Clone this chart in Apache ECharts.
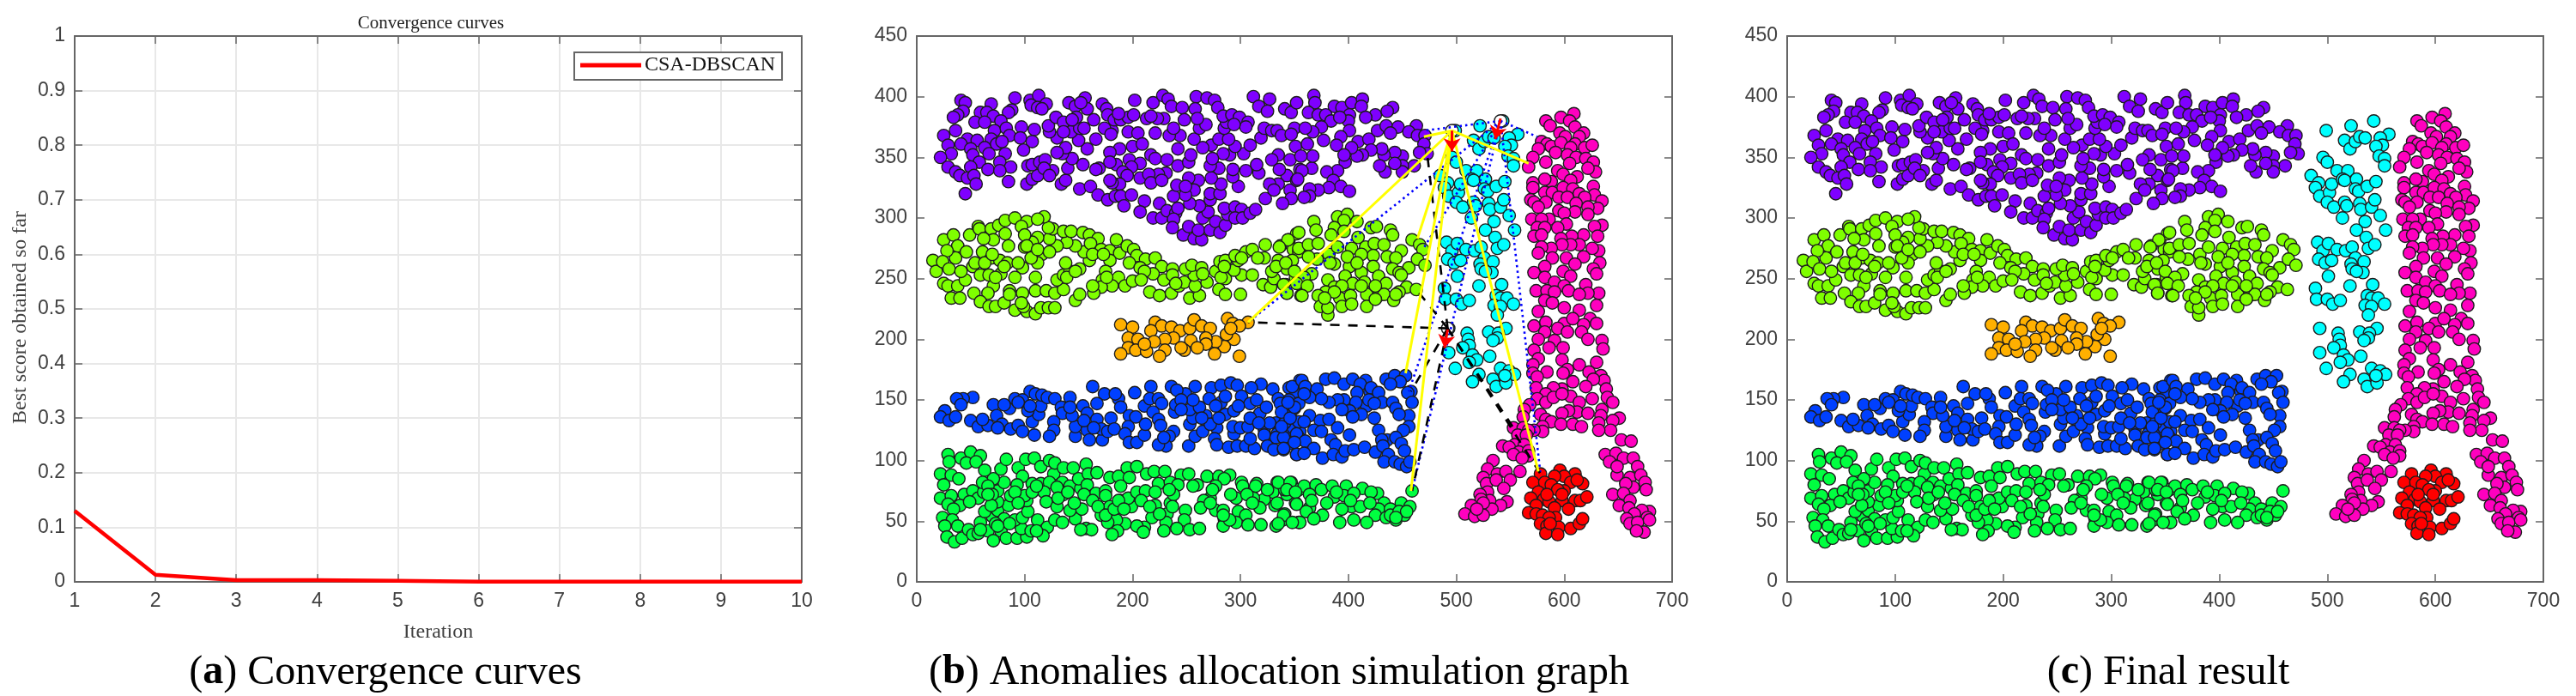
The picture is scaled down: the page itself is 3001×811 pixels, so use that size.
<!DOCTYPE html>
<html><head><meta charset="utf-8">
<style>html,body{margin:0;padding:0;background:#fff}#c{width:3001px;height:811px}</style>
<script src="https://cdn.jsdelivr.net/npm/echarts@6/dist/echarts.min.js"></script>
</head><body><div id="c"></div>
<script>
const iterations=[1,2,3,4,5,6,7,8,9,10];
const bestScore=[0.13,0.013,0.003,0.003,0.002,0.0005,0.0005,0.0004,0.0003,0.0003];
const scoreTicks=[0,0.1,0.2,0.3,0.4,0.5,0.6,0.7,0.8,0.9,1];
const captions=[['a',') Convergence curves'],['b',') Anomalies allocation simulation graph'],['c',') Final result']];

const purplePts=[[41,397],[45,395],[43,388],[38,385],[34,383],[69,394],[91,399],[88,389],[85,387],[105,397],[113,401],[120,394],[106,393],[112,391],[116,390],[141,395],[156,399],[147,392],[158,390],[152,395],[172,394],[176,390],[202,397],[219,395],[228,401],[233,398],[236,392],[246,391],[259,400],[269,399],[276,397],[279,391],[258,390],[312,400],[327,398],[317,392],[325,388],
[59,387],[65,387],[71,384],[54,379],[63,379],[78,380],[72,372],[83,374],[97,375],[109,373],[36,372],[25,368],[47,365],[56,364],[41,361],[29,360],[69,365],[86,368],[96,366],[107,363],[74,361],[79,363],[63,358],[50,357],[99,356],[32,353],[22,350],[52,352],[67,353],[82,353],[58,346],[77,346],[29,342],[87,342],[66,340],[77,339],[50,342],[36,338],[40,335],[47,333],[53,335],[55,328],[45,320],[85,330],[102,328],[107,332],[112,335],[103,343],[107,344],[114,346],[119,348],[126,339],[118,341],[123,335],[134,328],[138,331],[140,341],[154,344],[144,349],[135,353],[138,358],[130,354],[158,357],[150,364],[166,365],[130,366],[123,371],[122,376],[129,383],[136,379],[143,371],[151,374],[148,383],[155,374],[164,381],[144,381],[136,371],
[181,372],[174,374],[180,369],[177,385],[183,381],[189,381],[196,383],[201,385],[187,386],[196,371],[205,370],[200,359],[209,361],[188,357],[179,354],[217,352],[221,349],[232,348],[185,344],[179,346],[197,348],[207,345],[169,341],[166,340],[199,342],[191,338],[195,335],[231,337],[224,336],[207,333],[215,336],[217,329],[227,331],[188,328],[181,329],[179,331],[151,324],[161,326],[168,319],[177,315],[184,318],[189,318],[199,319],[192,310],[211,314],[207,305],[225,312],[219,300],[227,300],[232,306],[240,304],[242,308],[238,299],[237,292],[247,286],[252,293],[257,283],[264,282],[261,290],[272,290],[277,297],[281,288],[286,294],[288,303],[285,308],[295,309],[301,307],[295,300],[302,300],[309,304],[314,307],[265,300],[270,305],[262,310],[253,312],[272,315],[272,320],[281,320],[282,328],[298,326],[273,333],[261,331],[257,323],[249,319],[238,318],[241,327],[252,333],[249,326],[242,343],[252,346],[254,352],[242,357],[293,334],[293,340],[280,341],[272,343],[305,339],[317,337],[315,344],[290,352],[284,353],[274,349],[303,353],[295,359],[309,360],[273,360],[280,365],[289,365],[265,358],[257,365],[244,368],[234,368],[221,370],[238,374],[262,374],[268,377],[260,382],[248,381],[229,382],[223,382],[213,382],[217,384],[285,374],[287,379],[284,384],[292,385],[299,383],[307,379],[305,375],[294,377],[319,366],[322,374],[329,372],[334,372],[338,368],[350,374],[347,369],[341,390],[347,387],[352,395],[335,352],[329,348],[346,348],[351,359],[343,335],[335,328],[327,328],[323,316],[346,323],[347,316],[339,312],[331,323],[352,331],[355,340],[336,340],
[368,401],[369,395],[363,387],[387,392],[394,391],[403,395],[413,398],[412,392],[401,385],[425,385],[441,391],[436,388],[416,383],[372,385],[379,385],[384,380],[400,380],[392,383],[375,375],[367,371],[401,372],[360,374],[377,364],[393,367],[389,360],[409,363],[419,365],[427,372],[435,376],[446,375],[439,370],[463,376],[456,371],[464,368],[471,368],[470,361],[473,353],[466,354],[461,343],[450,351],[443,354],[433,352],[450,343],[450,338],[443,345],[434,338],[429,343],[431,357],[421,356],[413,352],[408,351],[403,358],[397,346],[396,352],[390,339],[380,338],[386,331],[393,326],[401,322],[382,325],[372,323],[364,324],[364,318],[359,317],[366,341],[357,339],[353,332],[367,351],[356,351],[362,361]];

const limePts=[[15,265],[18,256],[25,282],[34,286],[38,277],[36,267],[28,273],[24,264],[30,258],[25,246],[29,244],[38,244],[32,234],[40,234],[45,249],[41,256],[52,260],[46,272],[49,286],[57,293],[58,291],[69,291],[76,294],[82,298],[91,300],[102,297],[97,293],[82,287],[71,282],[62,283],[85,277],[61,272],[69,267],[54,263],[63,263],[77,265],[84,263],[98,259],[78,254],[59,253],[67,253],[91,251],[110,251],[71,244],[66,238],[53,238],[59,231],[67,227],[73,227],[81,230],[86,240],[98,238],[91,224],[102,223],[110,221],[99,227],[115,226],[122,226],[128,226],[110,240],[120,240],[128,238],[136,241],[147,232],[151,237],[130,249],[136,253],[142,256],[138,263],[151,258],[160,265],[155,272],[147,277],[139,280],[130,277],[123,283],[112,284],[116,270],[112,263],[106,267],[100,276],[107,280],[100,286],[126,291],[122,292],[118,301],[112,299],[136,289],[143,289],[154,288],[160,286],[168,283],[161,279],[171,274],[179,273],[185,282],[188,271],[179,265],[195,277],[201,274],[204,269],[212,266],[221,267],[197,263],[207,259],[227,260],[219,254],[211,256],[229,249],[187,251],[175,256],[172,249],[181,244],[171,243],[164,238],[163,244],[193,244],[200,248],[208,249],[216,239],[225,236],[236,238],[243,244],[248,247],[253,234],[262,236],[258,244],[257,253],[249,258],[255,261],[237,258],[264,259],[269,247],[265,254],[277,256],[281,264],[286,265],[286,250],[280,241],[286,237],[300,237],[301,253],[294,257],[298,265],[295,269],[305,272],[311,274],[323,278],[322,267],[316,267],[311,253],[321,245],[328,243],[331,250],[329,256],[335,265],[337,277],[345,282],[352,287],[349,274],[354,272],[343,258],[342,245],[343,238],[354,246],[356,236],
[163,270],[173,270],[176,251],[102,277],[112,274],[123,272],[139,251],[147,256],[73,251],[81,260],[94,263],[70,270],[86,237],[97,230],[237,253],[240,246],[282,251],[285,260],[301,267],[333,260],[348,265],[351,251],
[368,297],[370,290],[390,301],[399,303],[396,298],[408,297],[387,292],[396,289],[384,286],[409,284],[421,292],[426,293],[439,290],[441,286],[354,288],[344,282],[336,276],[354,275],[363,278],[372,279],[382,270],[390,276],[403,275],[416,276],[424,279],[433,278],[449,273],[459,282],[466,278],[469,274],[436,268],[444,267],[423,269],[412,270],[371,266],[363,268],[342,263],[387,262],[401,260],[423,260],[456,259],[464,266],[471,261],[441,258],[447,255],[428,252],[412,255],[397,252],[366,254],[350,256],[359,251],[352,246],[340,245],[362,244],[343,238],[357,236],[381,249],[415,247],[404,246],[435,246],[454,243],[463,241],[447,239],[387,243],[394,244],[379,239],[372,236],[392,234],[402,236],[417,237],[428,236],[433,237],[442,232],[374,227],[381,220],[381,226],[394,227],[403,229],[417,227],[425,233],
[387,239],[444,237],[449,253],[412,244],[378,234],[425,244],[399,268],[408,263],[383,263]];

const orangePts=[[189,212],[200,210],[221,214],[227,211],[217,207],[236,210],[244,207],[253,209],[257,216],[264,211],[272,209],[288,217],[293,213],[307,214],[299,211],[294,200],[287,204],[285,194],[277,198],[268,201],[268,196],[254,199],[276,188],[299,186],[260,193],[248,191],[238,201],[230,200],[196,201],[205,200],[196,193],[203,191],[213,190],[220,198],[230,191],[225,186],[189,188],[245,193],[211,196],[291,209]];

const bluePts=[[163,161],[174,155],[202,156],[217,161],[236,161],[258,161],[273,160],[282,162],[291,164],[297,162],[319,163],[310,160],[330,159],[52,152],[43,151],[37,151],[41,146],[26,141],[22,136],[30,133],[36,136],[50,133],[57,128],[66,129],[61,134],[71,146],[74,137],[79,130],[75,127],[86,143],[91,151],[87,126],[94,129],[98,124],[109,121],[107,132],[113,138],[103,141],[105,157],[110,155],[98,150],[115,145],[116,154],[121,152],[128,151],[142,152],[134,144],[135,139],[127,132],[127,125],[123,120],[147,120],[147,128],[144,137],[142,144],[154,145],[167,147],[158,139],[167,134],[180,135],[158,125],[160,117],[172,117],[171,126],[177,124],[183,126],[187,151],[184,155],[189,144],[197,137],[203,136],[196,128],[193,122],[197,115],[204,115],[211,121],[212,130],[211,145],[216,151],[224,151],[227,147],[219,140],[224,134],[226,129],[238,124],[234,120],[231,112],[224,113],[252,112],[258,120],[265,124],[253,130],[256,135],[268,137],[278,127],[272,130],[276,118],[278,113],[289,111],[297,112],[305,112],[313,110],[309,118],[294,122],[293,128],[300,127],[307,128],[286,138],[280,135],[239,140],[240,146],[253,142],[262,144],[249,155],[241,158],[256,150],[271,151],[282,148],[286,153],[294,141],[301,153],[309,147],[315,150],[318,139],[324,144],[335,151],[345,160],[355,166],[351,157],[345,150],[350,143],[337,147],[346,137],[333,131],[322,126],[322,121],[334,122],[341,122],[349,127],[325,112],[331,109],[340,109],[352,105],[355,124],[354,132],
[327,131],[333,119],[341,131],[309,135],[317,131],[298,145],[277,145],[264,135],[245,150],[245,142],[354,147],[346,114],[105,145],[94,148],[81,146],[155,133],[164,127],[229,119],[338,140],[340,119],[346,135],[338,128],[354,119],[420,157],[396,150],[417,145],
[348,161],[357,166],[360,161],[379,167],[387,168],[371,159],[396,163],[404,167],[416,166],[411,163],[421,160],[435,167],[443,170],[453,170],[448,165],[439,163],[428,156],[458,157],[455,156],[459,148],[431,148],[441,148],[444,143],[408,156],[407,148],[419,150],[424,147],[390,150],[382,148],[375,151],[364,152],[359,155],[350,144],[344,148],[401,141],[394,142],[412,138],[404,136],[424,135],[456,137],[447,138],[456,128],[451,125],[428,125],[364,137],[374,133],[382,134],[359,132],[390,127],[368,125],[375,124],[352,122],[401,121],[384,117],[436,117],[444,119],[431,117],[449,114],[452,108],[388,113],[360,116],[368,110],[350,115],[340,110],[352,105],[359,106],[376,102],[386,105],[394,103],[397,108],[405,109],[415,111],[425,107],[432,112],[437,105],[433,99],[443,99],[448,97],[454,95],[457,99]];

const greenPts=[[29,105],[30,99],[41,102],[50,107],[59,104],[46,98],[55,99],[22,89],[32,88],[39,85],[25,80],[22,69],[32,71],[44,72],[52,75],[57,69],[62,74],[29,64],[40,63],[49,66],[34,60],[24,53],[33,51],[26,46],[38,46],[28,37],[35,33],[42,36],[48,43],[52,39],[57,40],[59,49],[66,42],[71,34],[70,54],[63,58],[75,59],[81,52],[78,42],[83,36],[93,36],[102,37],[97,44],[91,51],[98,53],[103,58],[102,67],[100,71],[85,63],[87,71],[75,66],[75,75],[81,82],[71,85],[63,92],[78,93],[83,101],[94,94],[98,87],[93,80],[107,81],[101,101],[109,102],[115,95],[123,100],[127,89],[128,98],[136,94],[145,94],[115,81],[123,82],[135,82],[142,79],[118,74],[120,66],[130,62],[136,72],[112,51],[121,45],[117,38],[106,42],[128,51],[135,49],[147,52],[142,59],[153,60],[146,65],[152,77],[157,97],[150,85],[159,89],[167,90],[158,80],[166,73],[175,75],[179,86],[187,87],[195,94],[204,95],[197,86],[189,79],[213,89],[220,91],[230,91],[224,81],[245,88],[252,89],[235,82],[242,80],[260,80],[256,79],[269,87],[280,87],[290,88],[285,85],[277,79],[301,82],[302,79],[315,81],[314,79],[334,82],[330,74],[347,82],[322,68],[312,69],[296,69],[272,69],[266,67],[263,61],[277,59],[284,59],[298,58],[305,55],[318,61],[332,63],[351,65],[341,56],[285,52],[296,49],[284,46],[307,47],[319,47],[333,46],[339,51],[354,49],[175,71],[179,62],[171,55],[189,67],[199,62],[196,69],[204,74],[212,75],[221,63],[221,74],[235,65],[238,72],[249,59],[248,51],[232,56],[218,53],[231,49],[193,48],[185,51],[177,49],[211,45],[204,46],[186,42],[181,39],[210,41],[229,42],[241,44],[253,43],[262,44],[157,44],[162,43],[152,43],
[61,82],[66,79],[70,72],[69,63],[91,74],[94,65],[107,74],[111,79],[130,78],[131,69],[140,74],[155,72],[163,67],[168,62],[175,55],[183,60],[187,67],[192,60],[208,67],[216,62],[225,56],[237,62],[234,76],[272,65],[274,76],[291,72],[306,72],[311,65],[325,76],[343,72],[341,76],[354,76],[290,51],[284,55],[86,48],[73,48],[59,43],[75,46],[111,42],[66,72],
[335,82],[346,82],[343,76],[359,79],[351,74],[370,80],[375,76],[385,79],[387,70],[398,79],[396,71],[413,77],[405,73],[427,73],[421,74],[459,75],[433,65],[428,60],[403,62],[411,62],[394,60],[380,65],[364,61],[352,64],[361,58],[449,65],[457,62],[439,60],[425,55],[435,53],[444,51],[452,55],[376,55],[368,52],[392,49],[405,51],[417,49],[355,49],[340,55],[348,49],[334,65],[335,48],
[364,72],[389,74],[402,67],[420,65],[439,55],[447,58],[454,58],[444,53],[366,67]];

const cyanPts=[[499,372],[522,376],[543,380],[557,369],[516,364],[521,357],[526,363],[530,367],[535,366],[549,366],[551,360],[545,359],[548,351],[553,349],[553,343],[496,350],[500,346],[485,335],[492,329],[489,325],[493,318],[502,321],[504,328],[509,339],[519,339],[514,332],[516,331],[527,332],[526,324],[529,322],[537,326],[545,330],[500,313],[506,309],[516,313],[518,310],[514,300],[530,312],[531,307],[541,309],[544,315],[549,302],[554,290],[535,297],[527,290],[536,284],[538,275],[544,278],[491,280],[496,273],[501,279],[509,274],[517,273],[523,276],[526,267],[534,264],[492,266],[498,263],[504,265],[522,262],[523,258],[533,255],[527,256],[501,252],[521,244],[542,245],[489,242],[490,233],[500,233],[505,229],[512,232],[537,236],[541,234],[547,234],[535,228],[541,227],[553,229],[538,220],
[493,209],[510,205],[530,206],[546,209],[539,205],[538,201],[534,199],[511,200],[512,195],[506,193],[493,189],[515,187],[531,186],[519,183],[512,181],[499,176],[541,176],[549,174],[554,171],[521,171],[515,165],[534,167],[537,161],[546,164],[545,170]];

const magentaPts=[[583,380],[587,376],[597,383],[609,386],[605,380],[610,375],[596,370],[601,367],[618,370],[614,367],[579,363],[584,361],[588,359],[597,362],[610,361],[619,358],[626,360],[606,358],[576,357],[592,354],[571,350],[567,342],[583,346],[603,352],[611,350],[620,349],[627,346],[629,338],[622,341],[605,345],[594,339],[599,336],[612,334],[606,331],[588,330],[582,332],[571,329],[571,325],[627,326],[628,319],[582,321],[589,321],[599,325],[608,324],[614,320],[619,317],[595,317],[603,317],[569,315],[572,313],[635,314],[631,308],[611,312],[583,313],[576,309],[622,309],[610,305],[595,306],[600,304],[570,299],[586,299],[579,299],[622,303],[602,295],[594,292],[635,294],[628,293],[575,292],[582,292],[572,285],[579,286],[631,285],[618,286],[607,285],[597,283],[614,278],[606,278],[598,278],[588,275],[579,276],[576,271],[589,267],[632,273],[626,275],[618,268],[602,267],[610,262],[633,263],[627,258],[630,254],[582,260],[572,255],[582,251],[599,256],[606,252],[591,247],[600,244],[574,240],[584,240],[620,245],[632,238],[622,238],[604,240],[614,237],[630,228],[614,224],[600,226],[591,239],[582,232],[589,230],[576,223],[572,211],[583,214],[600,213],[608,217],[624,217],[630,213],[618,212],[594,209],[603,206],[582,206],
[616,206],[635,199],[636,192],[576,200],[591,199],[599,193],[622,200],[586,193],[572,191],[576,184],[630,181],[571,179],[598,183],[614,179],[603,175],[584,173],[599,172],[571,172],[575,169],[623,173],[634,170],[637,166],[627,167],[608,165],[574,160],[598,159],[590,160],[620,161],[639,159],[606,153],[583,155],[575,151],[626,151],[640,152],[645,148],[583,148],[590,152],[598,155],[614,148],[568,146],[563,142],[612,140],[604,141],[598,139],[622,139],[635,142],[651,135],[645,133],[634,137],[562,136],[578,138],[583,134],[588,132],[597,130],[608,130],[616,128],[632,131],[643,125],[632,125],[553,127],[562,127],[580,128],[580,124],[572,125],[567,125],[557,121],[565,121],[543,112],[554,113],[563,113],[549,111],[558,107],[567,108],[567,104],[553,105],[561,102],[559,91],[534,100],[529,93],[538,89],[546,91],[550,84],[525,86],[528,81],[537,84],[544,77],[529,74],[522,72],[547,66],[541,63],[531,67],[523,68],[533,60],[525,65],[514,63],[508,56],[517,54],[525,55],[519,60],
[653,117],[662,116],[638,105],[648,106],[655,102],[664,102],[642,99],[649,88],[649,95],[668,95],[661,86],[671,88],[675,82],[676,76],[664,78],[657,81],[645,72],[655,73],[661,67],[651,63],[660,61],[679,58],[672,59],[665,56],[658,52],[677,53],[661,48],[668,49],[674,41],[667,42],[679,51]];

const redPts=[[578,89],[596,92],[610,89],[617,81],[600,87],[591,87],[571,82],[582,82],[588,80],[606,82],[612,84],[600,75],[594,76],[576,74],[569,69],[581,68],[586,66],[598,67],[610,67],[615,67],[621,70],[574,63],[591,61],[604,60],[567,57],[574,56],[580,55],[592,53],[586,53],[578,48],[584,46],[595,45],[583,40],[594,39],[606,44],[614,48],[617,52],[587,48],[598,72],[584,72]];

const centers=[[496,372],[541,380],[492,209]];
const yellowTargets=[[470,367],[567,345],[307,214],[464,283],[453,172],[458,75],[576,91]];
const dottedTargets=[[470,372],[575,367],[307,214],[469,274],[456,157],[459,75],[578,89]];
const dashedTargets=[[473,353],[463,241],[307,214],[458,157],[459,75],[553,127],[578,89]];
const arrowStarts=[[496,372],[541,382],[492,208]];
const arrowEnds=[[496,355],[536,365],[489,193]];

const clusters=[['Purple',purplePts,'#7f00ff'],['Lime',limePts,'#7fff00'],['Orange',orangePts,'#ffb000'],['Blue',bluePts,'#0040ff'],['Green',greenPts,'#00ff40'],['Cyan',cyanPts,'#00ffff'],['Magenta',magentaPts,'#ff00bf'],['Red',redPts,'#ff0000']];

const sans='"Liberation Sans",Arial,sans-serif', serif='"Liberation Serif",serif';
const AXC='#666666', TXT='#404040';
const grids=[{left:87,top:42,width:847,height:636},{left:1068,top:42,width:880,height:636},{left:2082,top:42,width:881,height:636}];

function axisPair(kind,g,opt,gridLines){
  const base={gridIndex:g,type:'value',min:opt.min,max:opt.max,interval:opt.interval,
    axisLine:{show:true,onZero:false,lineStyle:{color:AXC,width:2}},
    axisTick:{show:true,inside:true,length:9,lineStyle:{color:AXC,width:1.5}}};
  const gl={show:gridLines,lineStyle:{color:'#e8e8e8',width:2}};
  const main=Object.assign({},base,{position:kind==='x'?'bottom':'left',splitLine:gl,name:opt.name||'',
    nameLocation:'middle',nameGap:opt.nameGap||0,
    nameTextStyle:{fontFamily:serif,fontSize:24,color:TXT,padding:opt.namePad||0},
    axisLabel:{show:true,margin:11,fontFamily:sans,fontSize:23,color:TXT,formatter:v=>String(+v.toFixed(1))}});
  const other=Object.assign({},base,{position:kind==='x'?'top':'right',splitLine:{show:false},axisLabel:{show:false}});
  return [main,other];
}
const xAxis=[...axisPair('x',0,{min:1,max:10,interval:1,name:'Iteration',nameGap:47},true),
  ...axisPair('x',1,{min:0,max:700,interval:100},false),...axisPair('x',2,{min:0,max:700,interval:100},false)];
const yAxis=[...axisPair('y',0,{min:scoreTicks[0],max:scoreTicks[scoreTicks.length-1],interval:0.1,name:'Best score obtained so far',nameGap:51,namePad:[0,20,0,0]},true),
  ...axisPair('y',1,{min:0,max:450,interval:50},false),...axisPair('y',2,{min:0,max:450,interval:50},false)];

const series=[{name:'CSA-DBSCAN',type:'line',xAxisIndex:0,yAxisIndex:0,data:iterations.map((x,i)=>[x,bestScore[i]]),
  showSymbol:false,symbol:'none',lineStyle:{color:'#ff0000',width:4.5},itemStyle:{color:'#ff0000'},clip:false,z:5}];
function pointSeries(panel){
  const axis=panel*2;
  clusters.forEach(([n,pts,col])=>series.push({name:n+' '+panel,type:'scatter',xAxisIndex:axis,yAxisIndex:axis,data:pts,
    symbol:'circle',symbolSize:14.5,silent:true,itemStyle:{color:col,opacity:1,borderColor:'#1c1c1c',borderWidth:1.4},z:3}));
}
pointSeries(1);pointSeries(2);
series.push({name:'Centers',type:'scatter',xAxisIndex:2,yAxisIndex:2,data:centers,symbolSize:14.5,silent:true,
  itemStyle:{color:'#ffffff',opacity:1,borderColor:'#1c1c1c',borderWidth:1.4},z:4});
function links(name,from,targets,style){
  series.push({name,type:'lines',coordinateSystem:'cartesian2d',xAxisIndex:2,yAxisIndex:2,silent:true,symbol:'none',
    data:targets.map(t=>({coords:[from,t]})),lineStyle:Object.assign({opacity:1,curveness:0},style),z:6});
}
links('Dotted',centers[1],dottedTargets,{color:'#0000ff',width:2.6,type:[2.5,4]});
links('Dashed',centers[2],dashedTargets,{color:'#000000',width:2.6,type:[11,10]});
links('Solid',centers[0],yellowTargets,{color:'#ffff00',width:3,type:'solid'});
series.push({name:'Arrows',type:'lines',coordinateSystem:'cartesian2d',xAxisIndex:2,yAxisIndex:2,silent:true,
  symbol:['none','arrow'],symbolSize:15,data:arrowStarts.map((s,i)=>({coords:[s,arrowEnds[i]]})),
  lineStyle:{color:'#ff0000',width:3,opacity:1,curveness:0},z:7});

const capCenters=[444,1485,2521];
const title=[{text:'Convergence curves',left:497,top:12,textAlign:'center',textStyle:{fontFamily:serif,fontSize:21,fontWeight:'normal',color:'#222'}}]
 .concat(captions.map((c,i)=>({text:'('+'{b|'+c[0]+'}'+c[1],left:capCenters[i],top:755,textAlign:'center',
   textStyle:{fontFamily:serif,fontSize:48,fontWeight:'normal',color:'#000',
     rich:{b:{fontFamily:serif,fontSize:48,fontWeight:'bold',color:'#000'}}}})));

const chart=echarts.init(document.getElementById('c'),null,{renderer:'canvas',width:3001,height:811});
chart.setOption({animation:false,backgroundColor:'#fff',grid:grids.map(g=>Object.assign({containLabel:false,show:false},g)),
  title,xAxis,yAxis,series,
  legend:{data:[{name:'CSA-DBSCAN',icon:'rect'}],left:669,top:61,itemWidth:71,itemHeight:5,itemGap:0,
    padding:[3,8,5,7],borderColor:AXC,borderWidth:2,backgroundColor:'#fff',
    textStyle:{fontFamily:serif,fontSize:24,color:'#111',padding:[0,0,0,-1]}}});
</script></body></html>
